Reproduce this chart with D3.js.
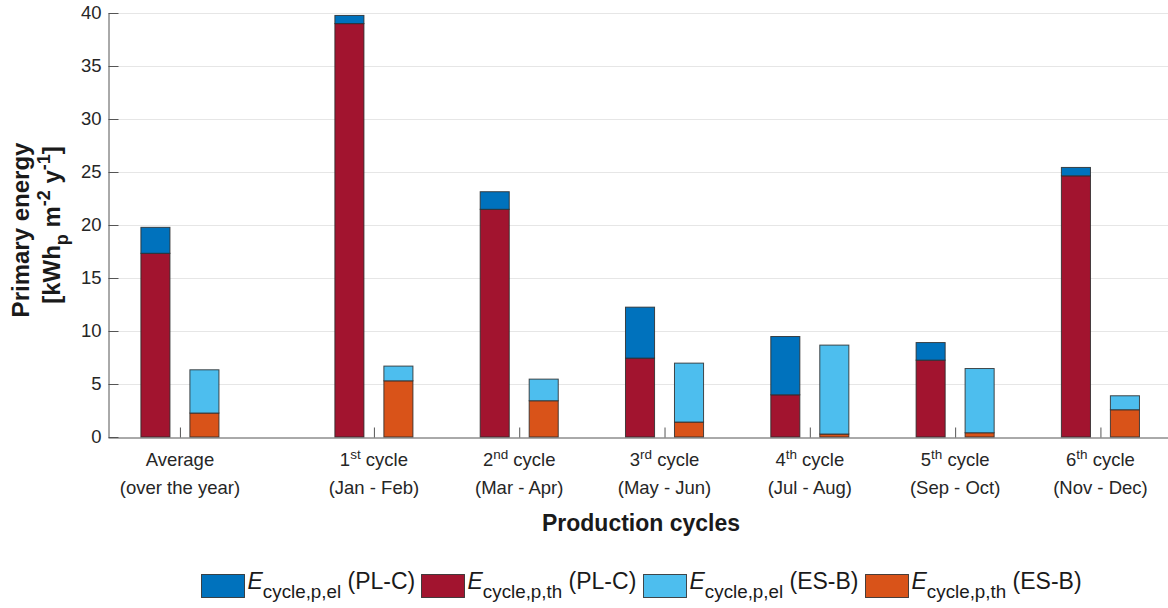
<!DOCTYPE html>
<html>
<head>
<meta charset="utf-8">
<script src="https://cdn.jsdelivr.net/npm/d3@7"></script>
<style>
  html, body { margin: 0; padding: 0; background: #fff; }
  svg { display: block; font-family: "Liberation Sans", Arial, Helvetica, sans-serif; }
</style>
</head>
<body>
<svg id="chart" width="1168" height="608"></svg>
<script>
// ---- Categories: production cycles (two-line tick labels) ----
const cycleHead   = ["Average", "1", "2", "3", "4", "5", "6"];
const cycleSup    = ["", "st", "nd", "rd", "th", "th", "th"];
const cycleTail   = ["", " cycle", " cycle", " cycle", " cycle", " cycle", " cycle"];
const cyclePeriod = ["(over the year)", "(Jan - Feb)", "(Mar - Apr)", "(May - Jun)",
                     "(Jul - Aug)", "(Sep - Oct)", "(Nov - Dec)"];

// ---- Primary energy per cycle [kWh_p m^-2 y^-1] ----
const plcEl = [2.45, 0.77, 1.66, 4.81, 5.50, 1.66, 0.79];   // PL-C, electrical
const plcTh = [17.33, 39.00, 21.48, 7.44, 3.98, 7.25, 24.64]; // PL-C, thermal
const esbEl = [4.08, 1.39, 2.04, 5.56, 8.39, 6.06, 1.32];   // ES-B, electrical
const esbTh = [2.26, 5.30, 3.42, 1.41, 0.28, 0.40, 2.57];   // ES-B, thermal

// ---- Axis ticks ----
const yTicks = [0, 5, 10, 15, 20, 25, 30, 35, 40];

// ---- Series styling ----
const colors = {
  plcEl: "#0072BD",
  plcTh: "#A2142F",
  esbEl: "#4DBEEE",
  esbTh: "#D95319"
};

const svg = d3.select("#chart");
svg.append("rect").attr("width", 1168).attr("height", 608).attr("fill", "#fff");

const plot = { left: 108, right: 1168, top: 13, bottom: 437 };

// The yearly average sits a little apart from the six cycles
const avgGap = 0.335;
const slot = i => (i === 0 ? 0 : i + avgGap);

const x = d3.scaleLinear().domain([-0.495, 6.8]).range([plot.left, plot.right]);
const y = d3.scaleLinear().domain([0, 40]).range([plot.bottom, plot.top]);

const barW = 0.2;          // bar width in slot units
const barShift = 0.1686;   // distance of each bar centre from the slot centre

// ---- Grid ----
svg.append("g")
  .selectAll("line")
  .data(yTicks.filter(t => t > 0))
  .join("line")
  .attr("x1", plot.left).attr("x2", plot.right)
  .attr("y1", d => Math.round(y(d)) + 0.5).attr("y2", d => Math.round(y(d)) + 0.5)
  .attr("stroke", "#e6e6e6").attr("stroke-width", 1);

// ---- Stacked bars (thermal at the base, electrical on top) ----
const rows = cycleHead.map((_, i) => ({
  i,
  plcTh: plcTh[i], plcEl: plcEl[i],
  esbTh: esbTh[i], esbEl: esbEl[i]
}));

const systems = [
  { keys: ["plcTh", "plcEl"], shift: -barShift },
  { keys: ["esbTh", "esbEl"], shift: barShift }
];

const barsG = svg.append("g");
systems.forEach(sys => {
  const stacked = d3.stack().keys(sys.keys)(rows);
  stacked.forEach(layer => {
    barsG.append("g")
      .selectAll("rect")
      .data(layer)
      .join("rect")
      .attr("x", d => x(slot(d.data.i) + sys.shift - barW / 2))
      .attr("width", d => x(barW) - x(0))
      .attr("y", d => y(d[1]))
      .attr("height", d => y(d[0]) - y(d[1]))
      .attr("fill", colors[layer.key])
      .attr("stroke", "#2b2b2b")
      .attr("stroke-opacity", 0.85)
      .attr("stroke-width", 1);
  });
});

// ---- Axes ----
const axisColor = "#555";
const textColor = "#262626";

const yAxis = svg.append("g")
  .attr("transform", `translate(${plot.left + 0.5},0)`)
  .call(d3.axisLeft(y).tickValues(yTicks).tickSize(-10).tickSizeOuter(0).tickPadding(7));
yAxis.select(".domain").attr("stroke", axisColor);
yAxis.selectAll(".tick line").attr("stroke", axisColor);
yAxis.selectAll(".tick text")
  .attr("fill", textColor)
  .style("font-size", "18.5px")
  .style("font-family", "'Liberation Sans', Arial, sans-serif");

const xAxis = svg.append("g")
  .attr("transform", `translate(0,${plot.bottom + 0.5})`)
  .call(d3.axisBottom(x).tickValues(cycleHead.map((_, i) => slot(i)))
    .tickSize(-10).tickSizeOuter(0).tickFormat(""));
xAxis.select(".domain").attr("stroke", axisColor);
xAxis.selectAll(".tick line").attr("stroke", axisColor);

// ---- Category labels ----
const catG = svg.append("g")
  .attr("fill", textColor)
  .attr("text-anchor", "middle")
  .style("font-size", "18.5px");

cycleHead.forEach((head, i) => {
  const cx = x(slot(i));
  const t1 = catG.append("text").attr("x", cx).attr("y", 466);
  t1.append("tspan").text(head);
  if (cycleSup[i]) {
    t1.append("tspan").attr("dy", -7).style("font-size", "13.5px").text(cycleSup[i]);
    t1.append("tspan").attr("dy", 7).text(cycleTail[i]);
  }
  catG.append("text").attr("x", cx).attr("y", 494).text(cyclePeriod[i]);
});

// ---- Axis titles ----
svg.append("text")
  .attr("x", (plot.left + plot.right) / 2 + 3)
  .attr("y", 531)
  .attr("text-anchor", "middle")
  .attr("fill", "#1a1a1a")
  .style("font-size", "23px")
  .style("font-weight", "bold")
  .text("Production cycles");

const yTitle = svg.append("g")
  .attr("fill", "#1a1a1a")
  .style("font-size", "24px")
  .style("font-weight", "bold");

yTitle.append("text")
  .attr("transform", "translate(29,230) rotate(-90)")
  .attr("text-anchor", "middle")
  .text("Primary energy");

const unit = yTitle.append("text")
  .attr("transform", "translate(60,225) rotate(-90)")
  .attr("text-anchor", "middle");
unit.append("tspan").text("[kWh");
unit.append("tspan").attr("dy", 8).style("font-size", "18px").text("p");
unit.append("tspan").attr("dy", -8).text(" m");
unit.append("tspan").attr("dy", -10).style("font-size", "18px").text("-2");
unit.append("tspan").attr("dy", 10).text(" y");
unit.append("tspan").attr("dy", -10).style("font-size", "18px").text("-1");
unit.append("tspan").attr("dy", 10).text("]");

// ---- Legend ----
const legendItems = [
  { key: "plcEl", sub: "cycle,p,el", sys: "(PL-C)" },
  { key: "plcTh", sub: "cycle,p,th", sys: "(PL-C)" },
  { key: "esbEl", sub: "cycle,p,el", sys: "(ES-B)" },
  { key: "esbTh", sub: "cycle,p,th", sys: "(ES-B)" }
];

const legendG = svg.append("g");
const swW = 43, swH = 23, swTextGap = 3, itemGap = 7;
const items = legendItems.map(it => {
  const g = legendG.append("g");
  g.append("rect")
    .attr("width", swW).attr("height", swH)
    .attr("y", 574.5)
    .attr("fill", colors[it.key])
    .attr("stroke", "#2b2b2b").attr("stroke-opacity", 0.85);
  const t = g.append("text")
    .attr("x", swW + swTextGap)
    .attr("y", 589)
    .attr("fill", "#1a1a1a")
    .style("font-size", "23px");
  t.append("tspan").style("font-style", "italic").text("E");
  t.append("tspan").attr("dy", 9).style("font-size", "18.8px").text(it.sub);
  t.append("tspan").attr("dy", -9).text(" " + it.sys);
  const w = swW + swTextGap + t.node().getComputedTextLength();
  return { g, w };
});
const totalW = d3.sum(items, d => d.w) + itemGap * (items.length - 1);
let cursor = (plot.left + plot.right) / 2 - totalW / 2 + 3;
items.forEach(d => {
  d.g.attr("transform", `translate(${Math.round(cursor) + 0.5},0)`);
  cursor += d.w + itemGap;
});
</script>
</body>
</html>
